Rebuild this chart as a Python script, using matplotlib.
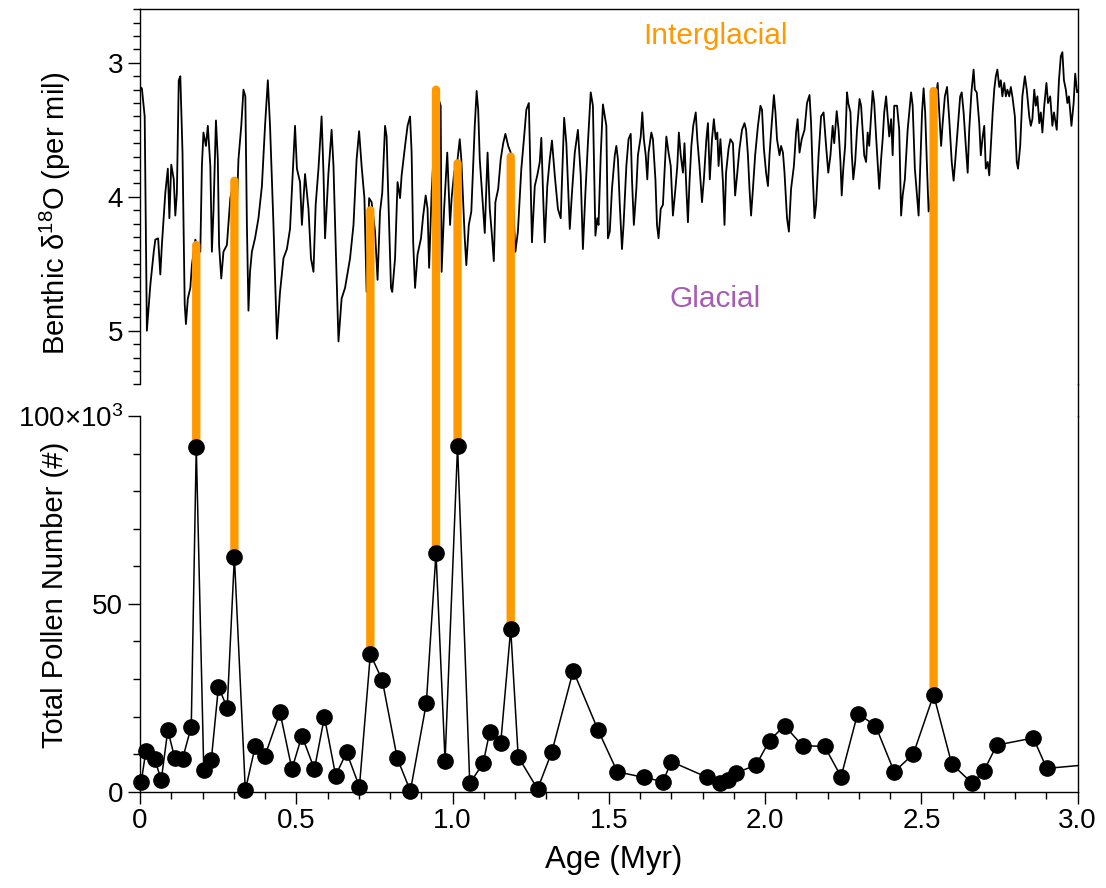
import matplotlib
matplotlib.use('Agg')
import matplotlib.pyplot as plt
from matplotlib.patches import ConnectionPatch
from matplotlib.ticker import MultipleLocator, FixedLocator
from matplotlib.lines import Line2D

plt.rcParams['font.family'] = ['Liberation Sans', 'DejaVu Sans']
plt.rcParams['mathtext.fontset'] = 'custom'
plt.rcParams['mathtext.rm'] = 'Liberation Sans'
plt.rcParams['mathtext.it'] = 'Liberation Sans:italic'
plt.rcParams['mathtext.bf'] = 'Liberation Sans:bold'

# ---------------- data ----------------
# Benthic d18O stack (Age in Myr, per mil)
d18o_age = [
    0.000, 0.006, 0.015, 0.022, 0.033, 0.044, 0.049, 0.058, 0.065, 0.070, 0.081, 0.089, 0.094, 0.100,
    0.108, 0.113, 0.118, 0.124, 0.129, 0.136, 0.143, 0.147, 0.153, 0.161, 0.166, 0.177, 0.185, 0.193,
    0.198, 0.203, 0.211, 0.217, 0.225, 0.230, 0.235, 0.243, 0.249, 0.253, 0.260, 0.267, 0.278, 0.289,
    0.299, 0.310, 0.315, 0.324, 0.331, 0.337, 0.342, 0.347, 0.352, 0.358, 0.368, 0.379, 0.390, 0.400,
    0.409, 0.416, 0.427, 0.438, 0.448, 0.459, 0.470, 0.480, 0.491, 0.496, 0.502, 0.512, 0.518, 0.528,
    0.539, 0.547, 0.555, 0.562, 0.571, 0.581, 0.587, 0.592, 0.603, 0.613, 0.619, 0.626, 0.635, 0.645,
    0.656, 0.672, 0.683, 0.693, 0.701, 0.709, 0.718, 0.725, 0.733, 0.741, 0.752, 0.760, 0.768, 0.775,
    0.784, 0.789, 0.794, 0.803, 0.807, 0.816, 0.824, 0.832, 0.837, 0.848, 0.856, 0.864, 0.869, 0.874,
    0.880, 0.888, 0.899, 0.906, 0.914, 0.920, 0.925, 0.933, 0.944, 0.949, 0.962, 0.965, 0.973, 0.983,
    0.992, 0.997, 1.005, 1.016, 1.023, 1.028, 1.039, 1.044, 1.052, 1.060, 1.071, 1.077, 1.082, 1.087,
    1.098, 1.103, 1.112, 1.119, 1.125, 1.132, 1.137, 1.146, 1.154, 1.162, 1.169, 1.178, 1.186, 1.201,
    1.209, 1.220, 1.229, 1.236, 1.244, 1.247, 1.254, 1.263, 1.271, 1.279, 1.284, 1.290, 1.295, 1.303,
    1.311, 1.318, 1.327, 1.337, 1.346, 1.357, 1.364, 1.375, 1.382, 1.391, 1.401, 1.410, 1.417, 1.425,
    1.433, 1.442, 1.449, 1.457, 1.463, 1.467, 1.474, 1.481, 1.487, 1.492, 1.497, 1.503, 1.510, 1.519,
    1.524, 1.529, 1.535, 1.542, 1.547, 1.556, 1.563, 1.570, 1.574, 1.580, 1.588, 1.593, 1.602, 1.607,
    1.612, 1.618, 1.623, 1.627, 1.636, 1.641, 1.649, 1.654, 1.659, 1.666, 1.673, 1.678, 1.684, 1.691,
    1.698, 1.705, 1.713, 1.719, 1.724, 1.730, 1.737, 1.742, 1.748, 1.753, 1.758, 1.764, 1.770, 1.778,
    1.783, 1.790, 1.798, 1.804, 1.812, 1.817, 1.823, 1.830, 1.836, 1.842, 1.847, 1.851, 1.857, 1.865,
    1.870, 1.875, 1.883, 1.889, 1.897, 1.904, 1.911, 1.918, 1.926, 1.934, 1.939, 1.945, 1.950, 1.955,
    1.961, 1.968, 1.977, 1.985, 1.990, 1.996, 2.003, 2.009, 2.014, 2.019, 2.028, 2.033, 2.038, 2.046,
    2.051, 2.057, 2.062, 2.070, 2.076, 2.083, 2.092, 2.099, 2.104, 2.110, 2.117, 2.126, 2.134, 2.142,
    2.147, 2.152, 2.158, 2.163, 2.171, 2.179, 2.187, 2.195, 2.202, 2.209, 2.216, 2.221, 2.229, 2.235,
    2.241, 2.245, 2.250, 2.256, 2.262, 2.266, 2.273, 2.277, 2.282, 2.288, 2.294, 2.302, 2.307, 2.312,
    2.317, 2.323, 2.328, 2.333, 2.339, 2.344, 2.349, 2.355, 2.360, 2.365, 2.371, 2.376, 2.381, 2.387,
    2.392, 2.397, 2.403, 2.408, 2.413, 2.422, 2.429, 2.435, 2.440, 2.447, 2.456, 2.461, 2.467, 2.472,
    2.479, 2.486, 2.491, 2.496, 2.502, 2.507, 2.512, 2.518, 2.523, 2.528, 2.534, 2.547, 2.552, 2.563,
    2.568, 2.575, 2.582, 2.589, 2.597, 2.603, 2.608, 2.616, 2.624, 2.629, 2.635, 2.642, 2.648, 2.653,
    2.660, 2.667, 2.671, 2.677, 2.685, 2.690, 2.696, 2.701, 2.706, 2.712, 2.717, 2.722, 2.728, 2.733,
    2.738, 2.743, 2.749, 2.754, 2.759, 2.765, 2.770, 2.775, 2.781, 2.786, 2.791, 2.799, 2.805, 2.809,
    2.816, 2.823, 2.831, 2.837, 2.845, 2.850, 2.855, 2.861, 2.866, 2.871, 2.877, 2.882, 2.887, 2.893,
    2.900, 2.905, 2.912, 2.919, 2.924, 2.933, 2.940, 2.946, 2.951, 2.956, 2.962, 2.967, 2.972, 2.980,
    2.987, 2.992, 2.998, 3.003,
]
d18o_val = [
    3.18, 3.19, 3.40, 5.00, 4.66, 4.41, 4.32, 4.31, 4.58, 4.36, 3.97, 3.79, 4.16, 3.76,
    3.87, 4.14, 3.97, 3.13, 3.10, 3.67, 4.80, 4.95, 4.76, 4.68, 4.51, 4.32, 4.38, 4.41,
    3.77, 3.52, 3.62, 3.47, 3.77, 4.41, 4.11, 3.43, 3.72, 4.36, 4.61, 4.41, 4.36, 4.01,
    3.89, 4.06, 3.72, 3.47, 3.20, 3.25, 4.21, 4.85, 4.56, 4.41, 4.31, 4.16, 3.92, 3.47,
    3.13, 3.47, 4.21, 5.06, 4.71, 4.46, 4.39, 4.24, 3.72, 3.47, 3.79, 3.89, 4.21, 3.83,
    4.09, 4.46, 4.56, 4.06, 3.79, 3.40, 3.82, 4.31, 3.82, 3.50, 3.77, 4.36, 5.08, 4.76,
    4.68, 4.46, 4.21, 3.72, 3.51, 3.77, 4.01, 4.71, 4.01, 4.04, 4.26, 4.62, 4.11, 3.97,
    3.47, 3.55, 3.97, 4.68, 4.71, 4.46, 3.89, 4.01, 3.84, 3.62, 3.47, 3.40, 3.67, 4.34,
    4.68, 4.43, 4.31, 4.14, 3.99, 4.09, 4.53, 3.97, 3.47, 3.22, 3.32, 4.56, 4.09, 3.67,
    4.21, 4.01, 3.82, 3.72, 3.57, 3.72, 4.31, 4.51, 4.21, 4.11, 3.47, 3.21, 3.35, 3.72,
    4.09, 4.27, 3.67, 4.09, 4.26, 4.48, 4.04, 3.94, 3.72, 3.60, 3.53, 3.62, 3.67, 4.41,
    4.26, 3.79, 3.55, 3.35, 3.30, 3.60, 4.34, 3.92, 3.84, 3.74, 3.56, 4.01, 4.34, 3.92,
    3.72, 3.58, 3.84, 4.09, 4.16, 3.41, 3.60, 4.24, 3.97, 3.67, 3.50, 3.84, 4.39, 3.97,
    3.60, 3.22, 3.32, 4.29, 4.16, 4.21, 3.69, 3.31, 3.40, 3.47, 4.31, 4.26, 3.94, 3.69,
    3.62, 3.72, 4.06, 4.39, 4.21, 3.77, 3.57, 3.53, 3.87, 4.21, 3.94, 3.69, 3.55, 3.37,
    3.57, 3.69, 3.87, 3.67, 3.52, 3.57, 3.87, 4.21, 4.31, 4.09, 4.06, 3.82, 3.55, 3.67,
    3.77, 4.14, 3.94, 3.77, 3.52, 3.69, 3.82, 3.60, 3.94, 4.19, 3.89, 3.62, 3.47, 3.37,
    3.57, 3.77, 4.04, 3.87, 3.57, 3.45, 3.87, 3.57, 3.42, 3.57, 3.52, 3.77, 3.57, 3.89,
    4.21, 3.82, 3.64, 3.57, 3.60, 3.99, 3.82, 3.64, 3.50, 3.45, 3.50, 3.69, 3.94, 4.14,
    3.94, 3.69, 3.47, 3.32, 3.35, 3.64, 3.82, 3.92, 3.69, 3.52, 3.24, 3.37, 3.57, 3.69,
    3.62, 3.67, 3.82, 4.16, 4.26, 3.94, 3.77, 3.52, 3.42, 3.67, 3.57, 3.50, 3.30, 3.24,
    3.45, 3.82, 4.16, 4.06, 3.69, 3.40, 3.37, 3.62, 3.82, 3.69, 3.47, 3.60, 3.36, 3.50,
    3.74, 3.99, 3.79, 3.62, 3.22, 3.30, 3.37, 3.67, 3.87, 3.74, 3.50, 3.27, 3.32, 3.50,
    3.69, 3.74, 3.52, 3.62, 3.40, 3.21, 3.30, 3.55, 3.74, 3.94, 3.72, 3.57, 3.37, 3.25,
    3.40, 3.55, 3.42, 3.69, 3.32, 3.32, 3.50, 4.14, 3.99, 3.87, 3.50, 3.37, 3.22, 3.32,
    3.79, 3.99, 4.14, 3.79, 3.37, 3.19, 3.37, 3.79, 4.11, 4.06, 3.87, 3.25, 3.15, 3.62,
    3.45, 3.25, 3.18, 3.42, 3.74, 3.88, 3.74, 3.50, 3.25, 3.22, 3.37, 3.62, 3.82, 3.50,
    3.22, 3.05, 3.20, 3.22, 3.45, 3.69, 3.55, 3.47, 3.79, 3.74, 3.84, 3.62, 3.37, 3.20,
    3.10, 3.05, 3.18, 3.13, 3.25, 3.15, 3.25, 3.20, 3.25, 3.18, 3.25, 3.40, 3.74, 3.79,
    3.62, 3.25, 3.10, 3.20, 3.40, 3.47, 3.42, 3.20, 3.32, 3.25, 3.45, 3.37, 3.52, 3.32,
    3.15, 3.30, 3.25, 3.47, 3.37, 3.50, 3.13, 2.95, 2.92, 3.13, 3.20, 3.30, 3.25, 3.47,
    3.30, 3.08, 3.22, 3.20,
]

# Total pollen number (Age in Myr, count in thousands)
pollen_age = [
    0.004, 0.019, 0.047, 0.068, 0.089, 0.111, 0.136, 0.164, 0.180, 0.204, 0.228, 0.251, 0.279, 0.302,
    0.337, 0.369, 0.400, 0.448, 0.486, 0.518, 0.558, 0.590, 0.626, 0.661, 0.702, 0.737, 0.775, 0.823,
    0.865, 0.916, 0.947, 0.976, 1.016, 1.055, 1.098, 1.119, 1.154, 1.186, 1.210, 1.272, 1.318, 1.386,
    1.465, 1.527, 1.612, 1.673, 1.700, 1.815, 1.857, 1.881, 1.907, 1.971, 2.014, 2.062, 2.120, 2.190,
    2.243, 2.296, 2.353, 2.413, 2.474, 2.539, 2.597, 2.663, 2.699, 2.741, 2.858, 2.901, 3.060,
]
pollen_k = [
    2.7, 10.9, 8.7, 3.1, 16.4, 9.0, 8.7, 17.3, 91.8, 5.8, 8.4, 27.9, 22.3, 62.5,
    0.4, 12.2, 9.6, 21.1, 6.0, 14.9, 6.0, 19.9, 4.3, 10.5, 1.3, 36.6, 29.7, 8.9,
    0.2, 23.5, 63.5, 8.2, 92.0, 2.2, 7.6, 16.0, 12.9, 43.3, 9.3, 0.7, 10.7, 32.2,
    16.5, 5.3, 3.8, 2.7, 8.0, 3.8, 2.2, 3.1, 5.0, 7.1, 13.6, 17.6, 12.2, 12.1,
    4.0, 20.8, 17.6, 5.3, 10.0, 25.8, 7.4, 2.2, 5.4, 12.4, 14.3, 6.2, 7.4,
]

# Interglacial links: age, pollen peak (thousands), d18O value at that age
link_age = [0.180, 0.302, 0.737, 0.947, 1.016, 1.186, 2.539]
link_pollen_k = [91.8, 62.5, 36.6, 63.5, 92.0, 43.3, 25.8]
link_d18o = [4.36, 3.88, 4.10, 3.20, 3.75, 3.70, 3.21]

x_ticks = [0, 0.5, 1.0, 1.5, 2.0, 2.5, 3.0]
x_ticklabels = ['0', '0.5', '1.0', '1.5', '2.0', '2.5', '3.0']
d18o_ticks = [3, 4, 5]
pollen_ticks = [0, 50000, 100000]
pollen_ticklabels = ['0', '50', '100\u00d710$^{3}$']

ORANGE = '#FF9900'
PURPLE = '#A65DB6'

# ---------------- figure ----------------
W, H = 1106, 888
fig = plt.figure(figsize=(W / 100, H / 100), dpi=100)
L, R = 140 / W, 1077.7 / W
ax_top = fig.add_axes([L, 1 - 384.3 / H, R - L, (384.3 - 9.3) / H])
ax_bot = fig.add_axes([L, 1 - 791.7 / H, R - L, (791.7 - 416) / H])

lw_sp = 1.0
tick_fs = 20
ann_fs = 21.5
ylab_fs = 21

# top panel
ax_top.plot(d18o_age, d18o_val, color='black', lw=1.3, zorder=2)
ax_top.set_xlim(0, 3)
ax_top.set_ylim(5.4, 2.6)
ax_top.spines['bottom'].set_visible(False)
for s in ['left', 'top', 'right']:
    ax_top.spines[s].set_linewidth(lw_sp)
ax_top.set_xticks([])
ax_top.yaxis.set_major_locator(FixedLocator(d18o_ticks))
ax_top.yaxis.set_minor_locator(MultipleLocator(0.1))
ax_top.tick_params(axis='y', which='major', direction='out', length=8.5, width=1.0, labelsize=tick_fs, pad=3.5)
ax_top.tick_params(axis='y', which='minor', direction='out', length=5, width=1.0)
ax_top.text(1.84, 2.80, 'Interglacial', color=ORANGE, fontsize=ann_fs, ha='center', va='center')
ax_top.text(1.84, 4.76, 'Glacial', color=PURPLE, fontsize=ann_fs, ha='center', va='center')

# bottom panel
pollen_val = [v * 1000 for v in pollen_k]
ax_bot.plot(pollen_age, pollen_val, color='black', lw=1.1, zorder=3)
mk_age = [a for a in pollen_age if a <= 3.0]
mk_val = [v for a, v in zip(pollen_age, pollen_val) if a <= 3.0]
ax_bot.plot(mk_age, mk_val, 'o', color='black', ms=11, clip_on=False, zorder=4)
ax_bot.set_xlim(0, 3)
ax_bot.set_ylim(0, 100000)
ax_bot.spines['top'].set_visible(False)
for s in ['left', 'bottom', 'right']:
    ax_bot.spines[s].set_linewidth(lw_sp)
ax_bot.set_xticks(x_ticks)
ax_bot.set_xticklabels(x_ticklabels)
ax_bot.xaxis.set_minor_locator(MultipleLocator(0.1))
ax_bot.set_yticks(pollen_ticks)
ax_bot.set_yticklabels(pollen_ticklabels)
ax_bot.yaxis.set_minor_locator(MultipleLocator(10000))
ax_bot.tick_params(which='major', direction='out', length=8.5, width=1.0, labelsize=tick_fs, pad=3.5)
ax_bot.tick_params(which='minor', direction='out', length=5, width=1.0)

# orange interglacial links (drawn over the d18O curve, under the pollen dots)
for a, p, d in zip(link_age, link_pollen_k, link_d18o):
    con = ConnectionPatch(xyA=(a, p * 1000), coordsA=ax_bot.transData,
                          xyB=(a, d), coordsB=ax_top.transData,
                          color=ORANGE, lw=6, zorder=2)
    con.set_clip_on(False)
    ax_bot.add_artist(con)

# continuous right frame line across the gap
fig.add_artist(Line2D([R, R], [1 - 384.3 / H, 1 - 416 / H], transform=fig.transFigure,
                      color='black', lw=lw_sp))

# axis labels
fig.text(55 / W, 1 - 213 / H, 'Benthic \u03b4$^{18}$O (per mil)', rotation=90,
         ha='center', va='center', fontsize=ylab_fs)
fig.text(55 / W, 1 - 595 / H, 'Total Pollen Number (#)', rotation=90,
         ha='center', va='center', fontsize=ylab_fs)
fig.text(614 / W, 1 - 860 / H, 'Age (Myr)', ha='center', va='center', fontsize=22.5)

fig.savefig('out.png', dpi=100)
